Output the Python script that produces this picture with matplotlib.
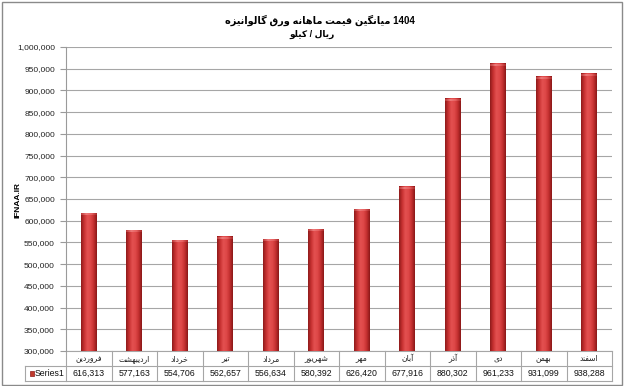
import numpy as np
import matplotlib
matplotlib.use("Agg")
import matplotlib.pyplot as plt
from matplotlib.colors import LinearSegmentedColormap
from matplotlib.patches import Rectangle

# data
title_fa = "میانگین قیمت ماهانه ورق گالوانیزه"
title_year = "1404"
subtitle_fa = "ریال / کیلو"
y_label = "IFNAA.IR"
series_name = "Series1"
months = ["فروردین", "اردیبهشت", "خرداد", "تیر", "مرداد", "شهریور",
          "مهر", "آبان", "آذر", "دی", "بهمن", "اسفند"]
prices = [616313, 577163, 554706, 562657, 556634, 580392,
          626420, 677916, 880302, 961233, 931099, 938288]
y_ticks = list(range(300000, 1000001, 50000))

# presentation forms: isolated, final, initial, medial (None = does not join forward)
FORMS = {
    'ا': (0xFE8D, 0xFE8E, None, None),
    'آ': (0xFE81, 0xFE82, None, None),
    'د': (0xFEA9, 0xFEAA, None, None),
    'ذ': (0xFEAB, 0xFEAC, None, None),
    'ر': (0xFEAD, 0xFEAE, None, None),
    'ز': (0xFEAF, 0xFEB0, None, None),
    'و': (0xFEED, 0xFEEE, None, None),
    'ب': (0xFE8F, 0xFE90, 0xFE91, 0xFE92),
    'ت': (0xFE95, 0xFE96, 0xFE97, 0xFE98),
    'خ': (0xFEA5, 0xFEA6, 0xFEA7, 0xFEA8),
    'س': (0xFEB1, 0xFEB2, 0xFEB3, 0xFEB4),
    'ش': (0xFEB5, 0xFEB6, 0xFEB7, 0xFEB8),
    'ف': (0xFED1, 0xFED2, 0xFED3, 0xFED4),
    'ق': (0xFED5, 0xFED6, 0xFED7, 0xFED8),
    'ک': (0xFB8E, 0xFB8F, 0xFB90, 0xFB91),
    'گ': (0xFB92, 0xFB93, 0xFB94, 0xFB95),
    'ل': (0xFEDD, 0xFEDE, 0xFEDF, 0xFEE0),
    'م': (0xFEE1, 0xFEE2, 0xFEE3, 0xFEE4),
    'ن': (0xFEE5, 0xFEE6, 0xFEE7, 0xFEE8),
    'ه': (0xFEE9, 0xFEEA, 0xFEEB, 0xFEEC),
    'ی': (0xFBFC, 0xFBFD, 0xFBFE, 0xFBFF),
}


def shape(s):
    # join letters and put them in visual (left to right) order
    out = []
    for i, c in enumerate(s):
        if c not in FORMS:
            out.append(c)
            continue
        prev = s[i-1] if i > 0 else None
        nxt = s[i+1] if i + 1 < len(s) else None
        jp = prev in FORMS and FORMS[prev][2] is not None
        jn = FORMS[c][2] is not None and nxt in FORMS
        iso, fin, ini, med = FORMS[c]
        if jp and jn:
            code = med
        elif jp:
            code = fin
        elif jn:
            code = ini
        else:
            code = iso
        out.append(chr(code))
    return "".join(out[::-1])


W, H = 624, 386
fig = plt.figure(figsize=(W/100, H/100), dpi=100)
fig.patch.set_facecolor("white")
fig.patches.append(Rectangle((1.5/W, 1.5/H), 1-3.5/W, 1-3.5/H, transform=fig.transFigure,
                             fill=False, edgecolor="#8a8a8a", lw=1.0))

num_font = ['Liberation Sans', 'DejaVu Sans']
fa_font = ['DejaVu Sans']

left, right, top, bottom = 66, 612, 47, 351
ax = fig.add_axes([left/W, 1-bottom/H, (right-left)/W, (bottom-top)/H])
x = np.arange(len(months))
ax.set_yticks(y_ticks)
ax.set_yticklabels(["{:,}".format(v) for v in y_ticks], fontsize=6, family=num_font, color="#222222")
ax.tick_params(axis="y", length=4, color="#9a9a9a", width=0.8, pad=4)
ax.tick_params(axis="x", length=0, labelbottom=False)
for s in ["top", "right", "bottom"]:
    ax.spines[s].set_visible(False)
ax.spines["left"].set_color("#9a9a9a")
ax.yaxis.grid(True, color="#a6a6a6", lw=0.8)
ax.set_axisbelow(True)

bars = ax.bar(x, prices, width=0.35, color="#c0392b", zorder=2, linewidth=0)
cmap = LinearSegmentedColormap.from_list("bar", ["#8e1a1a", "#c83232", "#e35050", "#de4848", "#c43030", "#8a1818"])
cap_cmap = LinearSegmentedColormap.from_list("cap", ["#b83838", "#ee7a7a", "#e66060", "#a82a2a"])
grad = np.linspace(0, 1, 64).reshape(1, -1)
ymin = y_ticks[0]
for b in bars:
    bx, bw, bh = b.get_x(), b.get_width(), b.get_height()
    im = ax.imshow(grad, cmap=cmap, aspect="auto", extent=(bx, bx+bw, ymin, bh), zorder=3)
    cap = ax.imshow(grad, cmap=cap_cmap, aspect="auto", extent=(bx, bx+bw, bh-4000, bh), zorder=4)
ax.set_xlim(-0.5, len(months)-0.5)
ax.set_ylim(y_ticks[0], y_ticks[-1])

# data table under the axis
ph = bottom - top
r1 = -15/ph
r2 = -30/ph
xt = ax.get_xaxis_transform()
lc = "#a6a6a6"
leg_x = -0.5 + (25-left)/((right-left)/len(months))
for i in range(len(months)+1):
    ax.plot([i-0.5, i-0.5], [0, r2], transform=xt, color=lc, lw=0.8, clip_on=False)
ax.plot([-0.5, len(months)-0.5], [0, 0], transform=xt, color=lc, lw=0.8, clip_on=False)
ax.plot([leg_x, len(months)-0.5], [r1, r1], transform=xt, color=lc, lw=0.8, clip_on=False)
ax.plot([leg_x, len(months)-0.5], [r2, r2], transform=xt, color=lc, lw=0.8, clip_on=False)
ax.plot([leg_x, leg_x], [r1, r2], transform=xt, color=lc, lw=0.8, clip_on=False)
for i, (m, v) in enumerate(zip(months, prices)):
    ax.text(i, r1/2, shape(m), transform=xt, ha="center", va="center", fontsize=5.5, family=fa_font, color="#222222")
    ax.text(i, (r1+r2)/2, "{:,}".format(v), transform=xt, ha="center", va="center", fontsize=6.3, family=num_font, color="#111111")
ax.text(-0.5 - 0.04, (r1+r2)/2, series_name, transform=xt, ha="right", va="center", fontsize=6.3, family=num_font, color="#111111")
ax.add_patch(Rectangle((leg_x + 0.1, (r1+r2)/2 - 2.5/ph), 0.1, 5/ph, transform=xt,
                       facecolor="#c0392b", edgecolor="#8e1a1a", lw=0.5, clip_on=False))

fig.text(320/W, 1-20/H, shape(title_fa) + " " + title_year, ha="center", va="center",
         fontsize=7, fontweight="bold", family=['Liberation Sans', 'DejaVu Sans'])
fig.text(312/W, 1-34/H, shape(subtitle_fa), ha="center", va="center",
         fontsize=6.5, fontweight="bold", family=['Liberation Sans', 'DejaVu Sans'])
fig.text(18/W, 1-200/H, y_label, rotation=90, ha="center", va="center", fontsize=6,
         fontweight="bold", family=['Liberation Sans', 'DejaVu Sans'])

fig.savefig("out.png", dpi=100)
